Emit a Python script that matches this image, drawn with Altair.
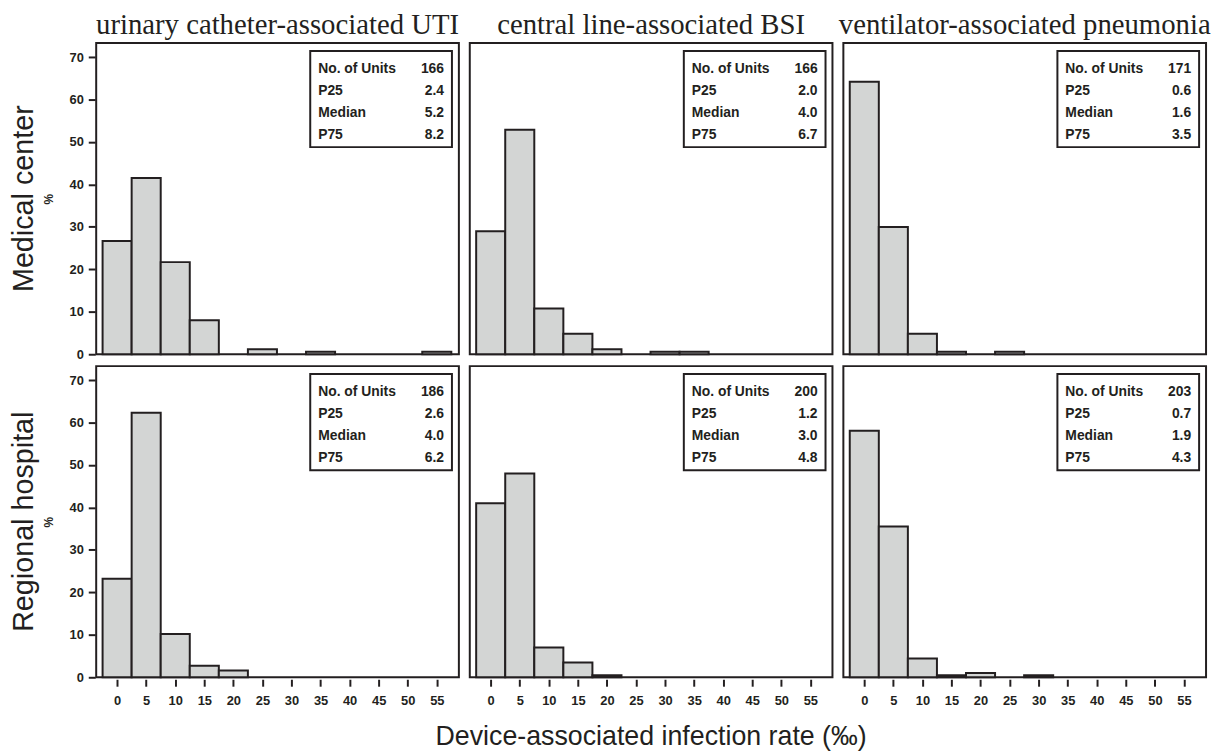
import altair as alt
import pandas as pd

infections = ["urinary catheter-associated UTI", "central line-associated BSI", "ventilator-associated pneumonia"]
hospitals = ["Medical center", "Regional hospital"]
bin_centers = [0, 5, 10, 15, 20, 25, 30, 35, 40, 45, 50, 55]

# percent of units in each 5-per-mille bin
pct_med_uti = [26.7, 41.5, 21.7, 8.0, 0, 1.2, 0, 0.6, 0, 0, 0, 0.6]
pct_med_bsi = [29.0, 52.9, 10.8, 4.8, 1.2, 0, 0.6, 0.6, 0, 0, 0, 0]
pct_med_vap = [64.2, 30.0, 4.8, 0.6, 0, 0.6, 0, 0, 0, 0, 0, 0]
pct_reg_uti = [23.2, 62.3, 10.2, 2.7, 1.6, 0, 0, 0, 0, 0, 0, 0]
pct_reg_bsi = [41.0, 48.0, 7.0, 3.5, 0.5, 0, 0, 0, 0, 0, 0, 0]
pct_reg_vap = [58.1, 35.5, 4.4, 0.5, 1.0, 0, 0.5, 0, 0, 0, 0, 0]

stat_labels = ["No. of Units", "P25", "Median", "P75"]
n_units = [166, 166, 171, 186, 200, 203]
p25 = [2.4, 2.0, 0.6, 2.6, 1.2, 0.7]
median = [5.2, 4.0, 1.6, 4.0, 3.0, 1.9]
p75 = [8.2, 6.7, 3.5, 6.2, 4.8, 4.3]

x_ticks = [0, 5, 10, 15, 20, 25, 30, 35, 40, 45, 50, 55]
y_ticks = [0, 10, 20, 30, 40, 50, 60, 70]

INK = "#231f20"

series = [
    ("Medical center", infections[0], pct_med_uti),
    ("Medical center", infections[1], pct_med_bsi),
    ("Medical center", infections[2], pct_med_vap),
    ("Regional hospital", infections[0], pct_reg_uti),
    ("Regional hospital", infections[1], pct_reg_bsi),
    ("Regional hospital", infections[2], pct_reg_vap),
]

rows = []
for i, (hosp, inf, vals) in enumerate(series):
    for c, v in zip(bin_centers, vals):
        rows.append({"kind": "bar", "hospital": hosp, "infection": inf, "center": c, "pct": v})
    rows.append({
        "kind": "stat", "hospital": hosp, "infection": inf,
        "left_text": "\n".join(stat_labels),
        "right_text": f"{n_units[i]}\n{p25[i]:.1f}\n{median[i]:.1f}\n{p75[i]:.1f}",
    })
df = pd.DataFrame(rows)

W, H = 366, 314

bars = alt.Chart().transform_filter(
    "datum.kind == 'bar' && datum.pct > 0"
).transform_calculate(
    x0="datum.center - 2.5", x1="datum.center + 2.5"
).mark_bar(fill="#d3d5d4", stroke=INK, strokeWidth=2).encode(
    x=alt.X("x0:Q", title=None,
            scale=alt.Scale(domain=[-3.6, 58.8], nice=False, zero=False),
            axis=alt.Axis(values=x_ticks, grid=False, domain=False, labelPadding=8)),
    x2="x1:Q",
    y=alt.Y("pct:Q", title="%",
            scale=alt.Scale(domain=[0, 73.3], nice=False),
            axis=alt.Axis(values=y_ticks, grid=False, domain=False,
                          labelPadding=5, titlePadding=14)),
    y2=alt.datum(0),
)

box = alt.Chart().transform_filter("datum.kind == 'stat'").mark_rect(
    fill="white", stroke=INK, strokeWidth=2
).encode(
    x=alt.value(W - 150), x2=alt.value(W - 7),
    y=alt.value(8), y2=alt.value(105),
)

ltext = alt.Chart().transform_filter("datum.kind == 'stat'").mark_text(
    align="left", baseline="middle", lineBreak="\n", lineHeight=22.3,
    font="Liberation Sans", fontSize=14, fontWeight="bold", color=INK
).encode(x=alt.value(W - 142), y=alt.value(26), text="left_text:N")

rtext = alt.Chart().transform_filter("datum.kind == 'stat'").mark_text(
    align="right", baseline="middle", lineBreak="\n", lineHeight=22.3,
    font="Liberation Sans", fontSize=14, fontWeight="bold", color=INK
).encode(x=alt.value(W - 15), y=alt.value(26), text="right_text:N")

layered = alt.layer(bars, box, ltext, rtext, data=df).properties(width=W, height=H)

chart = layered.facet(
    row=alt.Row("hospital:N", sort=hospitals, title=None,
                header=alt.Header(labelOrient="left", labelAngle=-90,
                                  labelFont="Liberation Sans", labelFontSize=29,
                                  labelColor=INK, labelPadding=-11)),
    column=alt.Column("infection:N", sort=infections,
                      title="Device-associated infection rate (‰)",
                      header=alt.Header(labelOrient="top", labelFont="Liberation Serif",
                                        labelFontSize=29, labelColor=INK, labelPadding=2,
                                        titleOrient="bottom", titleFont="Liberation Sans",
                                        titleFontSize=27, titleFontWeight="normal",
                                        titleColor=INK, titlePadding=7)),
    spacing={"row": 9, "column": 9},
).configure(
    background="white", padding={"left": 2, "top": 0, "right": 0, "bottom": 0}
).configure_view(
    stroke=INK, strokeWidth=2
).configure_axis(
    labelFont="Liberation Sans", labelFontSize=13, labelFontWeight="bold",
    labelColor=INK, tickColor=INK, tickWidth=2, tickSize=7,
    titleFont="Liberation Sans", titleFontSize=12,
    titleFontWeight="bold", titleColor=INK,
)

chart.save("out.html", embed_options={"renderer": "svg", "actions": False})
